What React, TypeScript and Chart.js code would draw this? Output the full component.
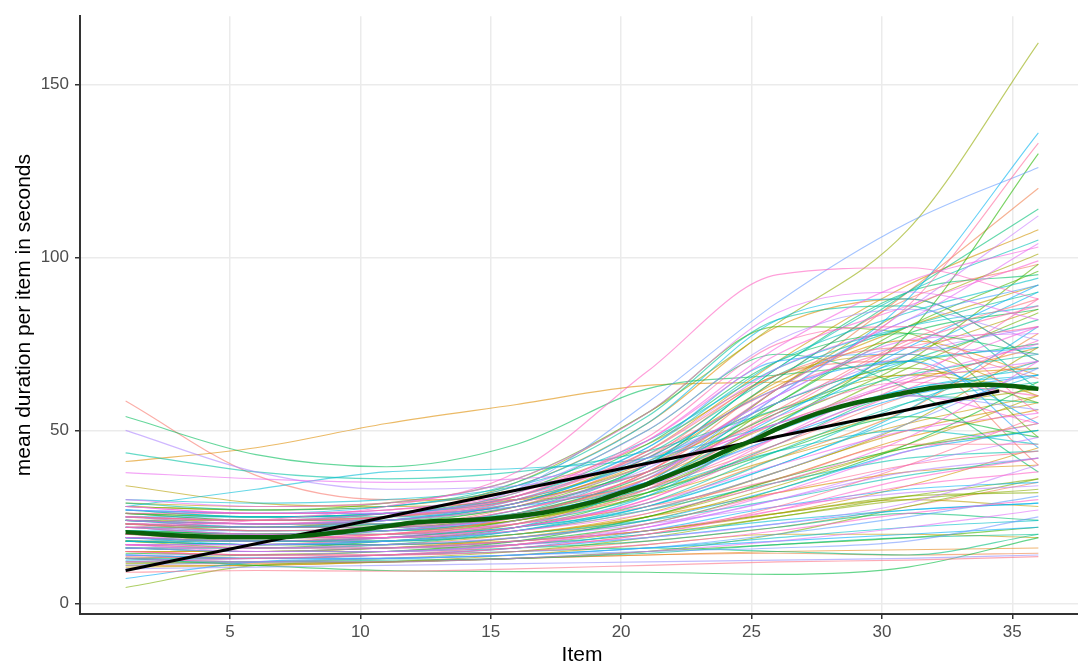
import React, { useEffect, useRef } from "react";
import { Chart, registerables } from "chart.js";

Chart.register(...registerables);

// Item positions at which each participant's smoothed curve is read
const items = [1, 6, 11, 16, 21, 26, 31, 36];

// One row per participant: mean duration (s) at the items above
const participantCurves: number[][] = [
  [58.5, 37, 30, 30, 34, 46, 60, 70],
  [54, 43, 39.5, 46, 62, 66, 70, 75],
  [50, 38, 33, 34, 42, 58, 72, 80],
  [41, 45, 52, 57.5, 63, 64, 66, 68],
  [43.5, 38, 36, 38, 44, 56, 66, 72],
  [37.8, 36, 35, 36, 40, 52, 65, 75],
  [34, 29, 28, 30, 38, 55, 72, 85],
  [28, 33, 38, 39, 42, 52, 62, 68],
  [22, 24, 28, 38, 67, 95, 97, 88],
  [4.6, 11, 12, 13, 15, 20, 28, 36],
  [7.2, 12, 13, 14, 16, 18, 20, 22],
  [9, 9.5, 9.3, 10, 11, 12, 12.5, 13.5],
  [13, 11, 9.5, 9.2, 9, 8.4, 10.5, 19],
  [10, 10.5, 11, 11.5, 12, 12.5, 13, 14],
  [11, 11, 12, 13, 14, 15, 15.5, 16],
  [12, 12, 12.5, 13, 14.5, 17, 19, 20],
  [13, 12, 12, 13, 15, 18, 22, 27],
  [10.5, 11, 12, 14, 17, 20, 20, 19],
  [14, 13, 13, 14, 16, 19, 22, 24],
  [15, 14, 14, 15, 17, 21, 26, 30],
  [11.5, 12, 13, 15, 19, 25, 30, 33],
  [12.5, 13, 14, 16, 21, 28, 33, 35],
  [13.5, 13, 14, 17, 23, 32, 40, 44],
  [14.5, 14, 15, 18, 25, 36, 45, 50],
  [11, 12, 13, 14, 15, 16, 18, 25],
  [12, 11.5, 12, 13, 14, 14.5, 14, 14.5],
  [13, 13, 14, 15, 16, 15, 14, 20],
  [16, 15, 16, 18, 22, 30, 40, 48],
  [17, 16, 17, 20, 26, 38, 50, 58],
  [18, 17, 18, 21, 28, 42, 58, 70],
  [19, 18, 19, 22, 30, 48, 66, 80],
  [20, 18, 18, 20, 25, 35, 45, 52],
  [21, 19, 19, 22, 31, 52, 72, 90],
  [22, 20, 20, 23, 33, 55, 75, 86],
  [23, 21, 21, 24, 34, 58, 80, 96],
  [24, 22, 22, 25, 36, 62, 82, 92],
  [25, 23, 23, 27, 38, 65, 88, 98],
  [26, 24, 24, 28, 40, 68, 90, 95],
  [16, 16, 17, 19, 23, 28, 32, 34],
  [17, 17, 18, 20, 25, 32, 38, 40],
  [18, 18, 19, 22, 27, 35, 42, 44],
  [19, 19, 20, 23, 29, 40, 50, 55],
  [20, 20, 21, 24, 32, 45, 56, 62],
  [21, 21, 22, 26, 35, 50, 62, 66],
  [22, 21, 22, 27, 37, 54, 64, 60],
  [23, 22, 23, 28, 40, 58, 68, 58],
  [24, 23, 24, 29, 42, 62, 70, 52],
  [25, 24, 25, 30, 44, 66, 74, 65],
  [26, 25, 26, 31, 46, 70, 78, 72],
  [27, 26, 27, 33, 50, 76, 85, 76],
  [28, 27, 28, 34, 52, 80, 88, 70],
  [29, 27, 28, 35, 54, 82, 86, 62],
  [30, 28, 29, 36, 55, 84, 90, 82],
  [15, 15, 16, 18, 21, 26, 30, 28],
  [16, 15, 15, 17, 20, 24, 27, 29],
  [17, 16, 16, 18, 21, 27, 34, 38],
  [18, 16, 16, 17, 20, 25, 31, 36],
  [19, 17, 17, 19, 24, 33, 44, 50],
  [20, 19, 20, 23, 28, 36, 46, 46],
  [21, 20, 21, 25, 32, 44, 54, 48],
  [22, 20, 21, 25, 34, 48, 60, 56],
  [23, 22, 22, 26, 36, 52, 64, 74],
  [24, 23, 24, 28, 38, 55, 70, 82],
  [25, 24, 25, 29, 40, 60, 76, 78],
  [26, 25, 26, 30, 42, 64, 80, 92],
  [27, 25, 26, 31, 45, 70, 84, 94],
  [28, 26, 27, 32, 47, 72, 86, 99],
  [22, 22, 25, 35, 55, 81, 108, 162],
  [18, 17, 18, 22, 35, 60, 88, 136],
  [20, 19, 20, 25, 38, 62, 86, 133],
  [16, 16, 18, 22, 32, 52, 78, 130],
  [24, 23, 25, 33, 58, 87, 110, 126],
  [19, 18, 20, 25, 38, 62, 90, 120],
  [21, 20, 22, 27, 40, 65, 90, 114],
  [17, 17, 19, 24, 36, 60, 85, 112],
  [23, 22, 24, 29, 44, 70, 92, 108],
  [20, 19, 21, 26, 40, 68, 90, 105],
  [25, 24, 26, 31, 47, 74, 93, 103],
  [18, 17, 19, 23, 35, 62, 85, 101],
  [27, 26, 28, 34, 52, 82, 88, 70],
  [24, 23, 25, 31, 48, 75, 80, 55],
  [28, 27, 29, 36, 55, 80, 78, 48],
  [23, 22, 24, 30, 45, 70, 72, 45],
  [21, 20, 22, 28, 42, 66, 70, 40],
  [25, 24, 26, 32, 50, 72, 62, 38],
  [14, 14, 15, 17, 22, 30, 38, 42],
  [15, 15, 16, 19, 25, 36, 48, 56],
  [16, 16, 17, 21, 29, 44, 58, 64],
  [17, 15, 15, 17, 22, 32, 44, 52],
  [18, 17, 17, 19, 24, 34, 46, 60],
  [19, 18, 18, 21, 28, 40, 54, 66],
  [20, 19, 19, 22, 30, 46, 62, 76],
  [21, 20, 20, 24, 33, 50, 68, 84],
  [22, 21, 21, 25, 35, 54, 74, 92],
  [23, 21, 22, 26, 36, 56, 76, 88],
  [24, 22, 22, 26, 37, 58, 78, 85],
  [25, 23, 23, 27, 39, 60, 74, 72],
  [26, 24, 25, 29, 41, 63, 76, 66],
  [27, 25, 25, 29, 43, 66, 80, 90],
  [28, 26, 26, 30, 44, 68, 82, 104],
  [29, 28, 29, 33, 46, 66, 72, 60],
  [30, 29, 30, 34, 47, 68, 80, 86],
  [12, 13, 14, 16, 20, 27, 36, 42],
  [13, 14, 15, 17, 21, 26, 31, 32],
  [14, 13, 14, 16, 19, 23, 27, 29],
  [15, 14, 14, 16, 20, 28, 40, 54],
  [16, 15, 16, 18, 23, 33, 46, 64],
  [17, 17, 18, 21, 27, 38, 52, 68],
  [18, 18, 19, 22, 29, 42, 56, 78],
  [19, 18, 19, 23, 31, 46, 60, 58],
  [20, 20, 21, 25, 34, 51, 64, 70],
  [21, 20, 21, 24, 31, 42, 52, 60],
  [22, 22, 23, 26, 33, 44, 50, 46],
  [23, 23, 24, 28, 38, 52, 60, 52],
  [24, 24, 25, 29, 40, 56, 66, 62],
  [25, 25, 26, 30, 41, 58, 70, 74],
  [26, 26, 27, 31, 43, 62, 74, 80],
  [13, 12, 12, 13, 15, 17, 19, 22],
  [14, 13, 13, 14, 16, 20, 25, 31],
  [15, 14, 14, 15, 18, 22, 28, 35],
  [16, 15, 15, 16, 18, 22, 26, 24],
  [17, 16, 16, 17, 19, 23, 29, 40],
  [18, 17, 17, 18, 21, 26, 34, 45],
  [19, 18, 18, 20, 24, 30, 37, 42],
  [20, 19, 19, 21, 26, 35, 48, 70],
  [21, 19, 19, 21, 27, 38, 52, 74],
  [22, 20, 20, 22, 28, 40, 56, 80],
  [23, 22, 22, 25, 33, 48, 64, 88],
  [24, 23, 23, 26, 35, 53, 70, 98],
  [27, 26, 26, 28, 35, 48, 60, 66],
];

// Overall smooth (dark green)
const smoothItems = [1, 3, 5, 7, 9, 11, 12, 13, 15, 17, 19, 20, 21, 22, 23, 24, 25, 26, 27, 28, 29, 30, 31, 32, 33, 34, 35, 36];
const smoothValues = [20.6, 19.6, 19.1, 19.2, 20.4, 22.3, 23.3, 23.8, 24.5, 26.2, 29.5, 32, 34.5, 37.5, 40.5, 44, 47, 50.5, 53.5, 56, 58, 59.5, 61, 62.3, 63, 63.2, 62.8, 62];

// Linear fit (black)
const lmItems = [1, 34.5];
const lmValues = [9.5, 61.4];

const xTicks = [5, 10, 15, 20, 25, 30, 35];
const yTicks = [0, 50, 100, 150];

const FONT = "'Liberation Sans', Arial, Helvetica, sans-serif";

function hcl(h: number, c: number, l: number, alpha: number): string {
  const Xn = 95.047, Yn = 100.0, Zn = 108.883;
  const hr = (h * Math.PI) / 180;
  const U = c * Math.cos(hr);
  const V = c * Math.sin(hr);
  const Y = l > 8 ? Yn * Math.pow((l + 16) / 116, 3) : (Yn * l) / 903.2963;
  const den = Xn + 15 * Yn + 3 * Zn;
  const un = (4 * Xn) / den;
  const vn = (9 * Yn) / den;
  const u = U / (13 * l) + un;
  const v = V / (13 * l) + vn;
  const X = (9 * Y * u) / (4 * v);
  const Z = -X / 3 - 5 * Y + (3 * Y) / v;
  const x = X / 100, y = Y / 100, z = Z / 100;
  const lin = [
    3.2404542 * x - 1.5371385 * y - 0.4985314 * z,
    -0.969266 * x + 1.8760108 * y + 0.041556 * z,
    0.0556434 * x - 0.2040259 * y + 1.0572252 * z,
  ];
  const rgb = lin.map((t) => {
    const g = t <= 0.0031308 ? 12.92 * t : 1.055 * Math.pow(t, 1 / 2.4) - 0.055;
    return Math.round(Math.min(1, Math.max(0, g)) * 255);
  });
  return `rgba(${rgb[0]},${rgb[1]},${rgb[2]},${alpha})`;
}

export default function App() {
  const ref = useRef<HTMLCanvasElement | null>(null);

  useEffect(() => {
    if (!ref.current) return;
    const N = participantCurves.length;
    const datasets: any[] = participantCurves.map((vals, i) => {
      const ci = (i * 47) % N;
      return {
        data: vals.map((v, j) => ({ x: items[j], y: v })),
        borderColor: hcl(15 + (360 * ci) / N, 100, 65, 0.6),
        borderWidth: 1.15,
        pointRadius: 0,
        cubicInterpolationMode: "monotone",
        order: N - ci + 10,
      };
    });
    datasets.push({
      data: lmValues.map((v, j) => ({ x: lmItems[j], y: v })),
      borderColor: "#000000",
      borderWidth: 3.2,
      pointRadius: 0,
      tension: 0,
      order: -1,
    });
    datasets.push({
      data: smoothValues.map((v, j) => ({ x: smoothItems[j], y: v })),
      borderColor: "#0a5f0a",
      borderWidth: 4.5,
      pointRadius: 0,
      cubicInterpolationMode: "monotone",
      order: -2,
    });

    const chart = new Chart(ref.current, {
      type: "line",
      data: { datasets },
      options: {
        responsive: false,
        animation: false,
        events: [],
        layout: { padding: { top: 15, left: 0, right: 0, bottom: 0 } },
        plugins: { legend: { display: false }, tooltip: { enabled: false } },
        scales: {
          x: {
            type: "linear",
            min: -0.75,
            max: 37.75,
            afterBuildTicks: (s: any) => {
              s.ticks = xTicks.map((v) => ({ value: v }));
            },
            afterFit: (s: any) => {
              s.height = 54;
            },
            grid: {
              color: "#ebebeb",
              lineWidth: 1.5,
              tickLength: 5,
              tickColor: "#333333",
              tickWidth: 1.5,
            },
            border: { display: true, color: "#333333", width: 2 },
            ticks: {
              color: "#4d4d4d",
              font: { family: FONT, size: 17 },
              padding: 3,
              maxRotation: 0,
              autoSkip: false,
            },
            title: {
              display: true,
              text: "Item",
              color: "#000000",
              font: { family: FONT, size: 21 },
              padding: { top: 0, bottom: 0 },
            },
          },
          y: {
            type: "linear",
            min: -3.06,
            max: 169.7,
            afterBuildTicks: (s: any) => {
              s.ticks = yTicks.map((v) => ({ value: v }));
            },
            afterFit: (s: any) => {
              s.width = 80;
            },
            grid: {
              color: "#ebebeb",
              lineWidth: 1.5,
              tickLength: 5,
              tickColor: "#333333",
              tickWidth: 1.5,
            },
            border: { display: true, color: "#333333", width: 2 },
            ticks: {
              color: "#4d4d4d",
              font: { family: FONT, size: 17 },
              padding: 6,
              autoSkip: false,
            },
            title: {
              display: true,
              text: "mean duration per item in seconds",
              color: "#000000",
              font: { family: FONT, size: 21 },
              padding: { top: 12, bottom: 0 },
            },
          },
        },
      } as any,
    });
    return () => chart.destroy();
  }, []);

  return (
    <div
      style={{
        position: "fixed",
        left: 0,
        top: 0,
        width: 1078,
        height: 668,
        overflow: "hidden",
        background: "#ffffff",
      }}
    >
      <canvas ref={ref} width={1084} height={668} style={{ width: 1084, height: 668, display: "block" }} />
    </div>
  );
}
